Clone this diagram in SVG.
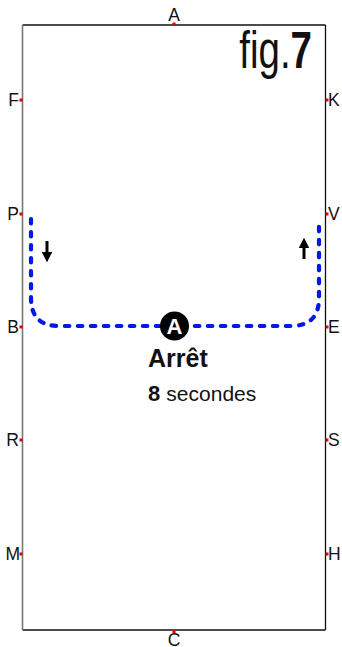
<svg xmlns="http://www.w3.org/2000/svg" width="342" height="647" viewBox="0 0 342 647">
<style>
.lbl{font-family:"Liberation Sans",Arial,sans-serif;font-size:17.5px;fill:#111}
.dot{fill:#e00000}
.route{fill:none;stroke:#0018e8;stroke-width:4.2;stroke-linecap:round;stroke-dasharray:4.5 8.5}
.arr{stroke:#000;stroke-width:3;fill:none}
.txt{font-family:"Liberation Sans",Arial,sans-serif;fill:#111}
</style>
<defs>
<marker id="ah" viewBox="0 0 10 10" refX="5" refY="5" markerWidth="3.6" markerHeight="3.6" orient="auto"><path d="M0,0 L10,5 L0,10 z" fill="#000"/></marker>
</defs>
<rect width="342" height="647" fill="#fff"/>
<g id="arena">
<line x1="22.5" y1="25" x2="325.5" y2="25" stroke="#111" stroke-width="1.3"/>
<line x1="325.5" y1="25" x2="325.5" y2="630" stroke="#111" stroke-width="1.3"/>
<line x1="22.5" y1="630" x2="325.5" y2="630" stroke="#111" stroke-width="1.3"/>
<line x1="22.5" y1="25" x2="22.5" y2="630" stroke="#777" stroke-width="1.6"/>
</g>
<g id="letters">
<rect class="dot" x="172.5" y="22.5" width="3" height="3"/><text class="lbl" x="174" y="21" text-anchor="middle">A</text>
<rect class="dot" x="172.5" y="630" width="3" height="3"/><text class="lbl" x="174" y="646" text-anchor="middle">C</text>
<rect class="dot" x="19.5" y="98.5" width="3" height="3"/><text class="lbl" x="19" y="106" text-anchor="end">F</text>
<rect class="dot" x="19.5" y="212.5" width="3" height="3"/><text class="lbl" x="19" y="220" text-anchor="end">P</text>
<rect class="dot" x="19.5" y="325.5" width="3" height="3"/><text class="lbl" x="19" y="333" text-anchor="end">B</text>
<rect class="dot" x="19.5" y="438.5" width="3" height="3"/><text class="lbl" x="19" y="446" text-anchor="end">R</text>
<rect class="dot" x="19.5" y="552.5" width="3" height="3"/><text class="lbl" x="20" y="560" text-anchor="end">M</text>
<rect class="dot" x="325.5" y="98.5" width="3" height="3"/><text class="lbl" x="328" y="106">K</text>
<rect class="dot" x="325.5" y="212.5" width="3" height="3"/><text class="lbl" x="328" y="220">V</text>
<rect class="dot" x="325.5" y="325.5" width="3" height="3"/><text class="lbl" x="328" y="333">E</text>
<rect class="dot" x="325.5" y="438.5" width="3" height="3"/><text class="lbl" x="328" y="446">S</text>
<rect class="dot" x="325.5" y="552.5" width="3" height="3"/><text class="lbl" x="328" y="560">H</text>
</g>
<g id="title">
<text class="txt" transform="translate(312,68) scale(0.74,1)" text-anchor="end" font-size="52">fig.<tspan font-weight="bold">7</tspan></text>
</g>
<g id="connectors">
<path class="route" d="M31,219 L31,298 Q31,326 59,326 L291,326 Q319,326 319,298 L319,219"/>
<line class="arr" x1="47" y1="241" x2="47" y2="257" marker-end="url(#ah)"/>
<line class="arr" x1="304" y1="259" x2="304" y2="243" marker-end="url(#ah)"/>
</g>
<g id="stopA">
<circle cx="174.5" cy="326" r="14.5" fill="#000"/>
<text class="txt" x="174.5" y="334" text-anchor="middle" font-size="22" font-weight="bold" style="fill:#fff">A</text>
<text class="txt" x="148" y="367" font-size="25" font-weight="bold">Arrêt</text>
<text class="txt" x="148" y="401" font-size="22" font-weight="bold">8 <tspan font-size="21" font-weight="normal">secondes</tspan></text>
</g>
</svg>
